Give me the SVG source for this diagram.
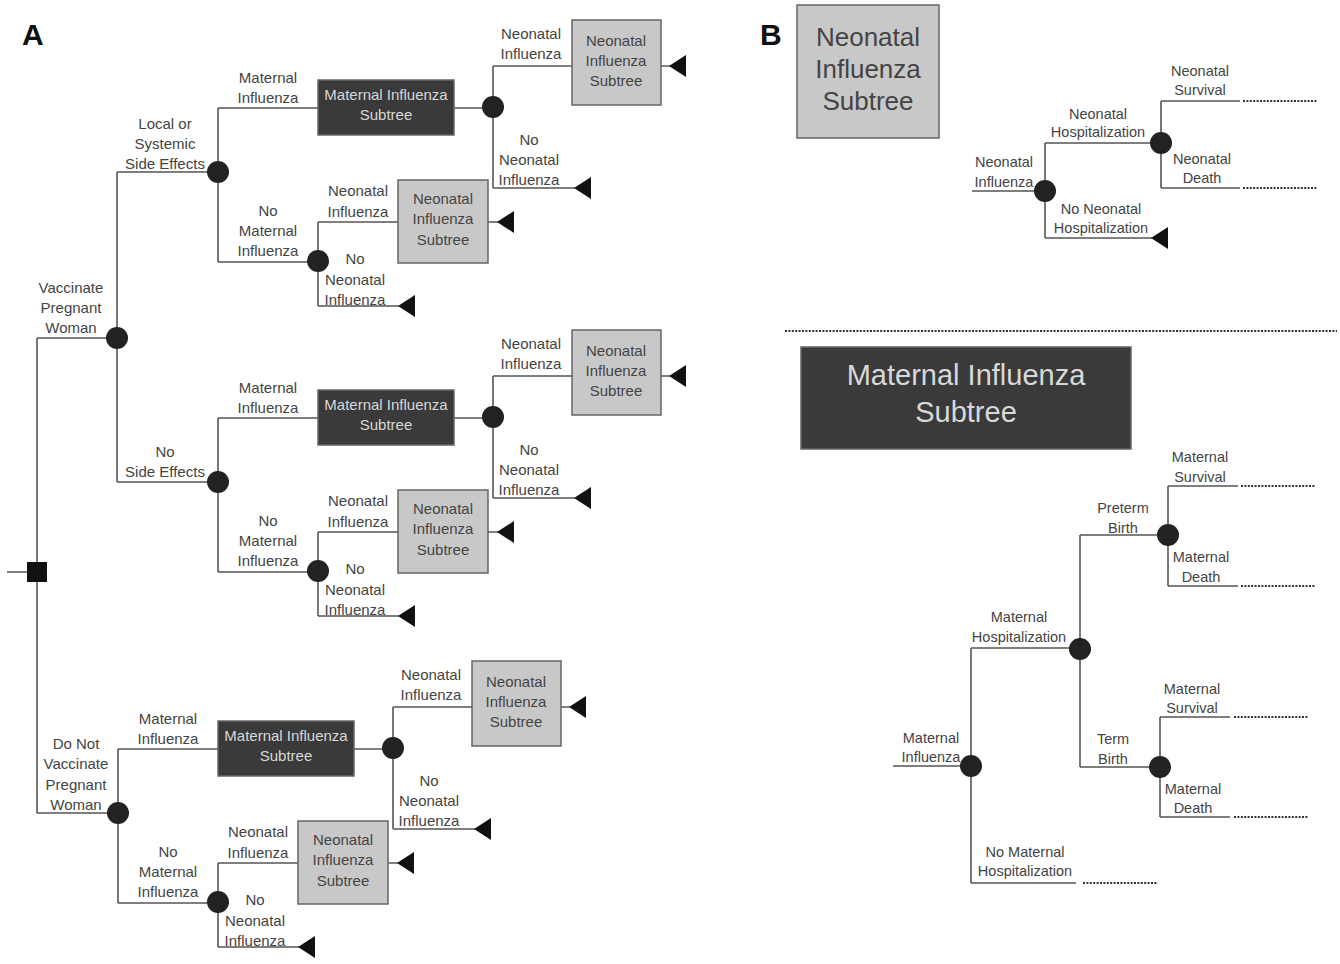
<svg xmlns="http://www.w3.org/2000/svg" width="1340" height="964" viewBox="0 0 1340 964">
<defs>
<style>
.ln{stroke:#555;stroke-width:1.6;fill:none}
.dot{stroke:#333;stroke-width:2;stroke-dasharray:2 1.4;fill:none}
.ch{fill:#222}
.dbox{fill:#3a3a3a;stroke:#666;stroke-width:1.5}
.lbox{fill:#c8c8c8;stroke:#666;stroke-width:1.5}
.tm{fill:#111}
text{font-family:"Liberation Sans",Arial,sans-serif;font-size:15px;fill:#444;text-anchor:middle}
.dt{fill:#d8d8d8}
.big{font-size:26px}
.bigd{font-size:29px;fill:#d8d8d8}
.s{font-size:14.5px}
.pl{font-size:30px;font-weight:bold;fill:#111;text-anchor:start}
</style>
</defs>
<rect width="1340" height="964" fill="#fff"/>
<text class="pl" x="22" y="45">A</text>
<text class="pl" x="760" y="45">B</text>

<g id="connectors">
<path class="ln" d="M7,572H27 M37,338V813 M37,338H117 M117,172V482 M117,172H218 M117,482H218 M37,813H118"/>
<!-- G1 -->
<path class="ln" d="M218,108V262 M218,108H318 M454,108H493 M493,66V188 M493,66H572 M661,66H670 M493,188H575 M218,262H318 M318,222V306 M318,222H398 M488,222H498 M318,306H399"/>
<!-- G2 -->
<path class="ln" d="M218,418V572 M218,418H318 M454,418H493 M493,376V498 M493,376H572 M661,376H670 M493,498H575 M218,572H318 M318,532V616 M318,532H398 M488,532H498 M318,616H399"/>
<!-- G3 -->
<path class="ln" d="M118,749V903 M118,749H218 M354,749H393 M393,707V829 M393,707H472 M561,707H570 M393,829H475 M118,903H218 M218,863V947 M218,863H298 M388,863H398 M218,947H299"/>
<!-- B neonatal -->
<path class="ln" d="M972,191H1045 M1045,143V238 M1045,143H1161 M1161,101V188 M1161,101H1240 M1161,188H1240 M1045,238H1152"/>
<path class="dot" d="M1243,101H1317 M1243,188H1317"/>
<path class="dot" d="M785,331H1337"/>
<!-- B maternal -->
<path class="ln" d="M893,766H971 M971,648V883 M971,648H1080 M971,883H1076 M1080,535V767 M1080,535H1168 M1080,767H1160 M1168,486V586 M1168,486H1238 M1168,586H1238 M1160,717V817 M1160,717H1230 M1160,817H1230"/>
<path class="dot" d="M1083,883H1158 M1241,486H1315 M1241,586H1315 M1234,717H1308 M1234,817H1308"/>
</g>

<g id="decision"><rect class="tm" x="27" y="562" width="20" height="20"/></g>
<g id="vaccinate"><circle class="ch" cx="117" cy="338" r="11"/>
<text><tspan x="71" y="293">Vaccinate</tspan><tspan x="71" y="313">Pregnant</tspan><tspan x="71" y="333">Woman</tspan></text></g>
<g id="lbl-donot"><text><tspan x="76" y="749">Do Not</tspan><tspan x="76" y="769">Vaccinate</tspan><tspan x="76" y="790">Pregnant</tspan><tspan x="76" y="810">Woman</tspan></text></g>
<g id="lbl-side"><text><tspan x="165" y="129">Local or</tspan><tspan x="165" y="149">Systemic</tspan><tspan x="165" y="169">Side Effects</tspan></text>
<text><tspan x="165" y="457">No</tspan><tspan x="165" y="477">Side Effects</tspan></text></g>

<!-- G1 nodes -->
<g id="g1-side"><circle class="ch" cx="218" cy="172" r="11"/>
<text><tspan x="268" y="83">Maternal</tspan><tspan x="268" y="103">Influenza</tspan></text>
<text><tspan x="268" y="216">No</tspan><tspan x="268" y="236">Maternal</tspan><tspan x="268" y="256">Influenza</tspan></text></g>
<g id="g1-mis"><rect class="dbox" x="318" y="80" width="136" height="55"/>
<text class="dt"><tspan x="386" y="100">Maternal Influenza</tspan><tspan x="386" y="120">Subtree</tspan></text></g>
<g id="g1-mi"><circle class="ch" cx="493" cy="107" r="11"/>
<text><tspan x="531" y="39">Neonatal</tspan><tspan x="531" y="59">Influenza</tspan></text>
<text><tspan x="529" y="145">No</tspan><tspan x="529" y="165">Neonatal</tspan><tspan x="529" y="185">Influenza</tspan></text></g>
<g id="g1-nis1"><rect class="lbox" x="572" y="20" width="89" height="85"/>
<text><tspan x="616" y="46">Neonatal</tspan><tspan x="616" y="66">Influenza</tspan><tspan x="616" y="86">Subtree</tspan></text></g>
<g id="g1-t1"><polygon class="tm" points="669,66 686,55 686,77"/></g>
<g id="g1-t2"><polygon class="tm" points="574,188 591,177 591,199"/></g>
<g id="g1-nmi"><circle class="ch" cx="318" cy="261" r="11"/>
<text><tspan x="358" y="196">Neonatal</tspan><tspan x="358" y="217">Influenza</tspan></text>
<text><tspan x="355" y="264">No</tspan><tspan x="355" y="285">Neonatal</tspan><tspan x="355" y="305">Influenza</tspan></text></g>
<g id="g1-nis2"><rect class="lbox" x="398" y="180" width="90" height="83"/>
<text><tspan x="443" y="204">Neonatal</tspan><tspan x="443" y="224">Influenza</tspan><tspan x="443" y="245">Subtree</tspan></text></g>
<g id="g1-t3"><polygon class="tm" points="497,222 514,211 514,233"/></g>
<g id="g1-t4"><polygon class="tm" points="398,306 415,295 415,317"/></g>

<!-- G2 nodes -->
<g id="g2-side"><circle class="ch" cx="218" cy="482" r="11"/>
<text><tspan x="268" y="393">Maternal</tspan><tspan x="268" y="413">Influenza</tspan></text>
<text><tspan x="268" y="526">No</tspan><tspan x="268" y="546">Maternal</tspan><tspan x="268" y="566">Influenza</tspan></text></g>
<g id="g2-mis"><rect class="dbox" x="318" y="390" width="136" height="55"/>
<text class="dt"><tspan x="386" y="410">Maternal Influenza</tspan><tspan x="386" y="430">Subtree</tspan></text></g>
<g id="g2-mi"><circle class="ch" cx="493" cy="417" r="11"/>
<text><tspan x="531" y="349">Neonatal</tspan><tspan x="531" y="369">Influenza</tspan></text>
<text><tspan x="529" y="455">No</tspan><tspan x="529" y="475">Neonatal</tspan><tspan x="529" y="495">Influenza</tspan></text></g>
<g id="g2-nis1"><rect class="lbox" x="572" y="330" width="89" height="85"/>
<text><tspan x="616" y="356">Neonatal</tspan><tspan x="616" y="376">Influenza</tspan><tspan x="616" y="396">Subtree</tspan></text></g>
<g id="g2-t1"><polygon class="tm" points="669,376 686,365 686,387"/></g>
<g id="g2-t2"><polygon class="tm" points="574,498 591,487 591,509"/></g>
<g id="g2-nmi"><circle class="ch" cx="318" cy="571" r="11"/>
<text><tspan x="358" y="506">Neonatal</tspan><tspan x="358" y="527">Influenza</tspan></text>
<text><tspan x="355" y="574">No</tspan><tspan x="355" y="595">Neonatal</tspan><tspan x="355" y="615">Influenza</tspan></text></g>
<g id="g2-nis2"><rect class="lbox" x="398" y="490" width="90" height="83"/>
<text><tspan x="443" y="514">Neonatal</tspan><tspan x="443" y="534">Influenza</tspan><tspan x="443" y="555">Subtree</tspan></text></g>
<g id="g2-t3"><polygon class="tm" points="497,532 514,521 514,543"/></g>
<g id="g2-t4"><polygon class="tm" points="398,616 415,605 415,627"/></g>

<!-- G3 nodes -->
<g id="g3-donot"><circle class="ch" cx="118" cy="813" r="11"/>
<text><tspan x="168" y="724">Maternal</tspan><tspan x="168" y="744">Influenza</tspan></text>
<text><tspan x="168" y="857">No</tspan><tspan x="168" y="877">Maternal</tspan><tspan x="168" y="897">Influenza</tspan></text></g>
<g id="g3-mis"><rect class="dbox" x="218" y="721" width="136" height="55"/>
<text class="dt"><tspan x="286" y="741">Maternal Influenza</tspan><tspan x="286" y="761">Subtree</tspan></text></g>
<g id="g3-mi"><circle class="ch" cx="393" cy="748" r="11"/>
<text><tspan x="431" y="680">Neonatal</tspan><tspan x="431" y="700">Influenza</tspan></text>
<text><tspan x="429" y="786">No</tspan><tspan x="429" y="806">Neonatal</tspan><tspan x="429" y="826">Influenza</tspan></text></g>
<g id="g3-nis1"><rect class="lbox" x="472" y="661" width="89" height="85"/>
<text><tspan x="516" y="687">Neonatal</tspan><tspan x="516" y="707">Influenza</tspan><tspan x="516" y="727">Subtree</tspan></text></g>
<g id="g3-t1"><polygon class="tm" points="569,707 586,696 586,718"/></g>
<g id="g3-t2"><polygon class="tm" points="474,829 491,818 491,840"/></g>
<g id="g3-nmi"><circle class="ch" cx="218" cy="902" r="11"/>
<text><tspan x="258" y="837">Neonatal</tspan><tspan x="258" y="858">Influenza</tspan></text>
<text><tspan x="255" y="905">No</tspan><tspan x="255" y="926">Neonatal</tspan><tspan x="255" y="946">Influenza</tspan></text></g>
<g id="g3-nis2"><rect class="lbox" x="298" y="821" width="90" height="83"/>
<text><tspan x="343" y="845">Neonatal</tspan><tspan x="343" y="865">Influenza</tspan><tspan x="343" y="886">Subtree</tspan></text></g>
<g id="g3-t3"><polygon class="tm" points="397,863 414,852 414,874"/></g>
<g id="g3-t4"><polygon class="tm" points="298,947 315,936 315,958"/></g>

<!-- Panel B -->
<g id="b-nis"><rect class="lbox" x="797" y="5" width="142" height="133"/>
<text class="big"><tspan x="868" y="46">Neonatal</tspan><tspan x="868" y="78">Influenza</tspan><tspan x="868" y="110">Subtree</tspan></text></g>
<g id="b-ni"><circle class="ch" cx="1045" cy="191" r="11"/>
<text class="s"><tspan x="1004" y="167">Neonatal</tspan><tspan x="1004" y="187">Influenza</tspan></text>
<text class="s"><tspan x="1098" y="119">Neonatal</tspan><tspan x="1098" y="137">Hospitalization</tspan></text>
<text class="s"><tspan x="1101" y="214">No Neonatal</tspan><tspan x="1101" y="233">Hospitalization</tspan></text></g>
<g id="b-nh"><circle class="ch" cx="1161" cy="143" r="11"/>
<text class="s"><tspan x="1200" y="76">Neonatal</tspan><tspan x="1200" y="95">Survival</tspan></text>
<text class="s"><tspan x="1202" y="164">Neonatal</tspan><tspan x="1202" y="183">Death</tspan></text></g>
<g id="b-nt"><polygon class="tm" points="1151,238 1168,227 1168,249"/></g>

<g id="b-mis"><rect class="dbox" x="801" y="347" width="330" height="102"/>
<text class="bigd"><tspan x="966" y="385">Maternal Influenza</tspan><tspan x="966" y="422">Subtree</tspan></text></g>
<g id="b-mi"><circle class="ch" cx="971" cy="766" r="11"/>
<text class="s"><tspan x="931" y="743">Maternal</tspan><tspan x="931" y="762">Influenza</tspan></text>
<text class="s"><tspan x="1019" y="622">Maternal</tspan><tspan x="1019" y="642">Hospitalization</tspan></text>
<text class="s"><tspan x="1025" y="857">No Maternal</tspan><tspan x="1025" y="876">Hospitalization</tspan></text></g>
<g id="b-mh"><circle class="ch" cx="1080" cy="649" r="11"/>
<text class="s"><tspan x="1123" y="513">Preterm</tspan><tspan x="1123" y="533">Birth</tspan></text>
<text class="s"><tspan x="1113" y="744">Term</tspan><tspan x="1113" y="764">Birth</tspan></text></g>
<g id="b-pb"><circle class="ch" cx="1168" cy="535" r="11"/>
<text class="s"><tspan x="1200" y="462">Maternal</tspan><tspan x="1200" y="482">Survival</tspan></text>
<text class="s"><tspan x="1201" y="562">Maternal</tspan><tspan x="1201" y="582">Death</tspan></text></g>
<g id="b-tb"><circle class="ch" cx="1160" cy="767" r="11"/>
<text class="s"><tspan x="1192" y="694">Maternal</tspan><tspan x="1192" y="713">Survival</tspan></text>
<text class="s"><tspan x="1193" y="794">Maternal</tspan><tspan x="1193" y="813">Death</tspan></text></g>
</svg>
